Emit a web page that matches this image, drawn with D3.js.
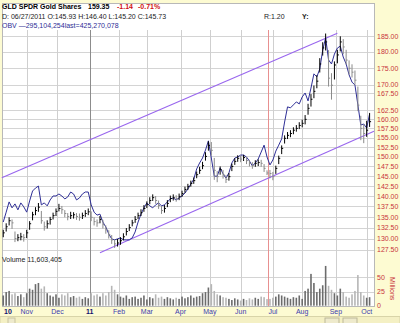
<!DOCTYPE html>
<html><head><meta charset="utf-8">
<script src="https://cdn.jsdelivr.net/npm/d3@7"></script>
<style>
html,body{margin:0;padding:0;background:#fdfbd2;}
svg{display:block;font-family:"Liberation Sans",Arial,sans-serif;}
</style></head><body>
<svg id="chart" width="400" height="323"></svg>
<script>
// GLD daily chart, one sample every two trading days (Oct 2010 - Oct 2011)
const closes = [131.3,132.7,134.1,133.6,130.0,130.2,130.4,130.2,131.3,133.4,
135.5,136.5,137.3,134.1,132.7,133.4,134.4,135.3,136.3,137.0,
136.7,135.8,135.1,135.3,135.5,135.1,134.9,135.3,135.8,136.2,
134.9,133.9,133.6,134.4,133.2,132.0,130.9,129.7,128.8,129.0,
129.5,130.4,131.6,132.5,133.6,134.4,135.3,136.0,137.0,137.9,
138.9,139.6,138.9,137.7,136.5,137.0,138.2,139.4,139.6,139.4,
139.9,140.6,141.6,142.3,143.1,143.8,145.3,146.4,147.6,150.0,
152.9,151.6,146.4,144.8,146.6,145.3,144.1,144.8,147.4,148.7,
149.5,149.3,149.7,148.9,148.2,147.6,148.2,148.4,148.2,146.9,
145.73,145.6,144.8,146.9,149.5,152.1,154.8,155.6,156.1,157.0,
157.5,158.3,158.9,160.0,163.1,165.7,168.0,171.0,176.2,181.2,
183.1,171.9,169.8,175.9,179.0,183.1,181.5,177.4,174.9,173.7,
171.3,164.0,157.5,156.1,157.0,159.35];
const highs = [132.0,133.5,134.9,134.4,131.6,131.0,131.3,131.0,132.0,134.0,
136.2,137.3,138.3,136.4,133.9,134.2,135.0,136.0,137.0,138.1,
137.6,136.6,135.9,136.2,136.1,135.9,135.8,136.0,136.6,137.0,
136.3,134.9,134.4,135.2,134.3,133.0,131.9,130.8,129.8,129.9,
130.3,131.2,132.4,133.3,134.3,135.2,136.0,136.8,137.8,138.7,
139.7,140.4,140.0,138.9,137.6,137.8,139.0,140.1,140.4,140.2,
140.6,141.3,142.3,143.0,143.8,144.6,146.1,147.3,148.6,151.1,
154.0,153.8,149.6,146.2,147.4,146.5,145.2,145.7,148.1,149.5,
150.3,150.2,150.4,149.8,149.1,148.5,149.0,149.2,149.1,148.0,
146.40,146.5,146.0,147.6,150.2,152.9,155.6,156.5,157.0,157.8,
158.4,159.2,159.9,161.2,164.4,167.2,169.7,172.8,178.0,183.0,
185.8,180.5,173.4,177.0,180.6,184.9,184.0,180.6,177.3,176.1,
174.2,169.4,161.0,158.6,159.6,161.8];
const lows = [130.3,131.6,133.0,132.2,129.2,129.4,129.6,129.3,130.1,132.0,
134.2,135.4,136.2,133.4,131.8,132.3,133.2,134.4,135.2,136.3,
135.7,134.9,134.2,134.5,134.6,134.3,134.1,134.5,135.0,135.4,
134.0,133.0,132.7,133.5,132.3,131.1,130.0,128.8,127.9,128.2,
128.6,129.6,130.7,131.7,132.8,133.6,134.5,135.2,136.2,137.1,
138.0,138.8,138.1,136.9,135.7,136.0,137.3,138.5,138.9,138.6,
139.0,139.8,140.8,141.5,142.3,143.0,144.4,145.5,146.7,148.9,
151.5,150.2,144.0,143.4,145.3,144.3,143.2,143.8,146.2,147.8,
148.6,148.5,148.8,148.0,147.4,146.8,147.3,147.5,147.3,146.0,
145.20,144.4,143.9,145.5,148.0,150.6,153.4,154.6,155.1,155.9,
156.6,157.3,157.8,158.6,161.3,163.6,166.0,168.9,173.6,178.8,
180.4,169.4,165.6,171.5,176.4,180.1,179.2,176.0,173.0,172.1,
169.9,162.3,154.3,153.5,155.2,157.9];
// On-balance volume, millions of shares
const obv = [98,128,159,141,153,135,156,144,128,162,
192,201,207,150,156,147,165,177,177,183,
177,168,174,189,183,165,171,183,189,189,
150,128,119,122,98,83,62,47,44,47,
50,44,44,44,50,68,98,122,141,156,
147,141,150,156,147,150,159,168,171,165,
171,177,186,198,213,228,259,277,292,316,
344,292,237,237,262,244,231,247,277,292,
295,301,301,295,283,268,277,289,310,331,
295.104254,271,286,313,331,350,401,447,444,453,
462,456,477,489,465,504,547,538,562,619,
656,589,577,607,625,631,598,577,544,522,
513,453,392,395,383,425.270078];
// Volume, millions of shares
const volumes = [18,24,26,20,22,17,20,15,22,30,
28,38,40,30,34,22,18,16,20,14,
20,18,22,15,17,14,16,12,15,13,
22,18,20,16,22,18,24,35,28,20,
16,14,18,12,15,16,12,14,18,11,
15,13,20,14,16,12,15,13,11,14,
12,16,13,15,18,14,16,17,22,24,
32,38,26,20,18,15,14,12,10,13,
11,9,12,10,13,11,14,12,16,15,
11.603405,12,14,16,20,18,16,14,12,15,
14,18,12,26,30,56,40,24,30,36,
70,35,28,22,18,30,24,16,14,20,
26,54,24,18,14,15];

const priceTicks = [185,180,175,170,167.5,162.5,160,157.5,155,152.5,150,147.5,145,142.5,140,137.5,135,132.5,130,127.5];
const volumeTicks = [0,25,50];
const monthLabels = ["10","Nov","Dec","11","Feb","Mar","Apr","May","Jun","Jul","Aug","Sep","Oct"];
const holidays = ["2010-11-25","2010-12-24","2011-01-17","2011-02-21","2011-04-22","2011-05-30","2011-07-04","2011-09-05"];
// Trend channel anchors: [trading day, price]
const upperChannel = [[-1,144.5],[228,185.9]];
const lowerChannel = [[66,126.8],[253,156.7]];
const cursorDay = 180; // 06/27/2011

const svg = d3.select("#chart");
const fmtDay = d3.utcFormat("%Y-%m-%d");
const days = d3.utcDays(new Date(Date.UTC(2010,9,8)), new Date(Date.UTC(2011,9,6)))
  .filter(d => d.getUTCDay() % 6 !== 0 && !holidays.includes(fmtDay(d)));

const panel = {left:2, right:374, top:3, bottom:306};
const x = d3.scaleLinear().domain([0, 250]).range([3.25, 369.6]);
const y = d3.scaleLog().domain([127.5,185]).range([249.7,36]);
const yObv = d3.scaleLinear().domain([13.3,661.7]).range([250,36]);
const yVol = d3.scaleLinear().domain([0,50]).range([305.7,277.3]);

// background panels
svg.append("rect").attr("x",0).attr("y",0).attr("width",400).attr("height",323).attr("fill","#fdfbd2");
svg.append("rect").attr("x",0).attr("y",316.5).attr("width",400).attr("height",7).attr("fill","#f4f0c4").attr("stroke","#d8d4a8");
svg.append("rect").attr("x",8).attr("y",318).attr("width",7).attr("height",6).attr("fill","#eeeacc").attr("stroke","#c8c4a0");
svg.append("rect").attr("x",325).attr("y",318).attr("width",14).attr("height",6).attr("fill","#eeeacc").attr("stroke","#bcb89a");
svg.append("rect").attr("x",343).attr("y",318).attr("width",14).attr("height",6).attr("fill","#eeeacc").attr("stroke","#bcb89a");
svg.append("rect").attr("x",panel.left+0.5).attr("y",panel.top+0.5)
  .attr("width",panel.right-panel.left).attr("height",panel.bottom-panel.top)
  .attr("fill","#fff").attr("stroke","#b8b8b8");

// month starts
const monthStarts = [0];
days.forEach((d,i) => { if (i>0 && d.getUTCMonth() !== days[i-1].getUTCMonth()) monthStarts.push(i); });

// horizontal price grid
const gGrid = svg.append("g");
gGrid.selectAll("line.h").data(priceTicks).join("line")
  .attr("x1",panel.left+1).attr("x2",panel.right)
  .attr("y1",d=>Math.round(y(d))+0.5).attr("y2",d=>Math.round(y(d))+0.5)
  .attr("stroke","#d4d4d4");
gGrid.selectAll("line.vh").data([25,50]).join("line")
  .attr("x1",panel.left+1).attr("x2",panel.right)
  .attr("y1",d=>Math.round(yVol(d))+0.5).attr("y2",d=>Math.round(yVol(d))+0.5)
  .attr("stroke","#d4d4d4");
// vertical month grid
gGrid.selectAll("line.v").data(monthStarts.slice(1)).join("line")
  .attr("x1",d=>Math.round(x(d))+0.5).attr("x2",d=>Math.round(x(d))+0.5)
  .attr("y1",30).attr("y2",panel.bottom)
  .attr("stroke",d=>days[d].getUTCMonth()===0 ? "#8c8c8c" : "#cfcfcf");
// cursor line
svg.append("line").attr("x1",Math.round(x(cursorDay))+1.5).attr("x2",Math.round(x(cursorDay))+1.5)
  .attr("y1",30).attr("y2",panel.bottom).attr("stroke","#e89090");

// trend channel
const chLine = d3.line().x(d=>x(d[0])).y(d=>y(d[1]));
[upperChannel, lowerChannel].forEach(c => {
  svg.append("path").attr("d",chLine(c)).attr("fill","none").attr("stroke","#9966ee").attr("stroke-width",1.1);
});

// volume bars
const samples = closes.map((c,i) => ({i, day:i*2, c, h:highs[i], l:lows[i], v:volumes[i], up: i===0 || c >= closes[i-1]}));
svg.append("g").selectAll("rect").data(samples).join("rect")
  .attr("x",d=>x(d.day)-0.8).attr("width",1.6)
  .attr("y",d=>yVol(d.v)).attr("height",d=>yVol(0)-yVol(d.v))
  .attr("fill",d=>d.up ? "#6c6c6c" : "#b6b6b6");

// OBV line
svg.append("path").datum(obv)
  .attr("d", d3.line().x((d,i)=>x(i*2)).y(d=>yObv(d)))
  .attr("fill","none").attr("stroke","#2e2e96").attr("stroke-width",1);

// price bars (high-low with close tick)
const gBars = svg.append("g");
gBars.selectAll("line.hl").data(samples).join("line")
  .attr("x1",d=>x(d.day)).attr("x2",d=>x(d.day))
  .attr("y1",d=>y(d.h)).attr("y2",d=>y(d.l))
  .attr("stroke",d=>d.up ? "#000" : "#8a8a8a").attr("stroke-width",1);
gBars.selectAll("line.c").data(samples).join("line")
  .attr("x1",d=>x(d.day)).attr("x2",d=>x(d.day)+1.5)
  .attr("y1",d=>y(d.c)).attr("y2",d=>y(d.c))
  .attr("stroke",d=>d.up ? "#000" : "#8a8a8a").attr("stroke-width",1);

// right price axis
const axisColor = "#c8343c";
const gAxis = svg.append("g").attr("transform",`translate(${panel.right},0)`)
  .call(d3.axisRight(y).tickValues(priceTicks).tickFormat(d3.format(".2f")).tickSize(0).tickPadding(3));
gAxis.select(".domain").remove();
gAxis.selectAll("text").attr("fill",axisColor).style("font-size","7px").style("font-family","'Liberation Sans',Arial,sans-serif");
const gVolAxis = svg.append("g").attr("transform",`translate(${panel.right},0)`)
  .call(d3.axisRight(yVol).tickValues(volumeTicks).tickFormat(d3.format("d")).tickSize(0).tickPadding(3));
gVolAxis.select(".domain").remove();
gVolAxis.selectAll("text").attr("fill",axisColor).style("font-size","7px").style("font-family","'Liberation Sans',Arial,sans-serif");
svg.append("text").attr("transform","translate(390,277) rotate(90)")
  .attr("fill",axisColor).style("font-size","7px").text("Millions");

// bottom month axis
svg.append("g").selectAll("text").data(monthStarts).join("text")
  .attr("x",(d,i)=> i===0 ? 4 : x(d))
  .attr("y",314)
  .attr("text-anchor",(d,i)=> i===0 ? "start" : "middle")
  .attr("fill",(d,i)=> (i===0 || days[d].getUTCMonth()===0) ? "#10106e" : "#3c3cb0")
  .style("font-weight",(d,i)=> (i===0 || days[d].getUTCMonth()===0) ? "bold" : "normal")
  .style("font-size","7px")
  .text((d,i)=>monthLabels[i]);

// header
const h1 = svg.append("text").attr("x",2).attr("y",9).style("font-size","7px").style("font-weight","bold");
h1.append("tspan").attr("fill","#000").text("GLD SPDR Gold Shares");
h1.append("tspan").attr("x",88).attr("fill","#000").text("159.35");
h1.append("tspan").attr("x",117).attr("fill","#d01010").text("-1.14");
h1.append("tspan").attr("x",138).attr("fill","#d01010").text("-0.71%");
svg.append("text").attr("x",2).attr("y",19).attr("fill","#222").style("font-size","7px")
  .text("D: 06/27/2011  O:145.93 H:146.40 L:145.20 C:145.73");
svg.append("text").attr("x",2).attr("y",27.5).attr("fill","#2e2e96").style("font-size","7px")
  .text("OBV \u2014295,104,254last=425,270,078");
svg.append("text").attr("x",264).attr("y",19).attr("fill","#222").style("font-size","7px").text("R:1.20");
svg.append("text").attr("x",302).attr("y",19).attr("fill","#222").style("font-size","7px").style("font-weight","bold").text("Y:");
svg.append("text").attr("x",2).attr("y",261.5).attr("fill","#222").style("font-size","7px").text("Volume 11,603,405");
</script>
</body></html>
